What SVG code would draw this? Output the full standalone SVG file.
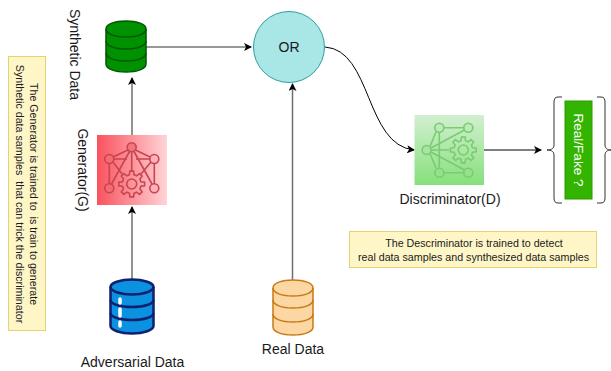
<svg xmlns="http://www.w3.org/2000/svg" width="611" height="371" viewBox="0 0 611 371">
<style>
text{font-family:"Liberation Sans",Arial,sans-serif;fill:#1a1a1a}
.lbl{font-size:14px;text-anchor:middle}
.note{font-size:10.700px;text-anchor:middle}
.nbox{fill:#fff6c8;stroke:#e6d272;stroke-width:1}
.ed{fill:none;stroke:#000;stroke-width:1}
.gr{fill:none;stroke:#6e6e6e;stroke-width:1.5}
.ic{fill:none;stroke-width:1.6}
</style>
<defs>
<linearGradient id="gG" x1="0" y1="0" x2="1" y2="0"><stop offset="0" stop-color="#f9525e"/><stop offset="1" stop-color="#ffd4d7"/></linearGradient>
<linearGradient id="gD" x1="0" y1="0" x2="0" y2="1"><stop offset="0" stop-color="#d2efd0"/><stop offset="1" stop-color="#86e07c"/></linearGradient>
<marker id="ah" markerWidth="8" markerHeight="8" refX="7" refY="4" orient="auto" markerUnits="userSpaceOnUse"><path d="M0,0L8,4L0,8L2,4Z" fill="#000"/></marker>
<g id="gear"><polygon points="9.22,-2.3 12.87,-1.81 12.87,1.81 9.22,2.3 8.14,4.89 10.38,7.82 7.82,10.38 4.89,8.14 2.3,9.22 1.81,12.87 -1.81,12.87 -2.3,9.22 -4.89,8.14 -7.82,10.38 -10.38,7.82 -8.14,4.89 -9.22,2.3 -12.87,1.81 -12.87,-1.81 -9.22,-2.3 -8.14,-4.89 -10.38,-7.82 -7.82,-10.38 -4.89,-8.14 -2.3,-9.22 -1.81,-12.87 1.81,-12.87 2.3,-9.22 4.89,-8.14 7.82,-10.38 10.38,-7.82 8.14,-4.89"/><circle r="5"/></g>
</defs>

<g id="connectors">
<path class="gr" d="M132,135V78" marker-end="url(#ah)"/>
<path class="gr" d="M132,280V207" marker-end="url(#ah)"/>
<path class="gr" d="M146,47H251" style="stroke:#333;stroke-width:1" marker-end="url(#ah)"/>
<path class="gr" d="M292.500,280V84" marker-end="url(#ah)"/>
<path class="ed" d="M325,47C372,50 365,145 414,150" marker-end="url(#ah)"/>
<path class="ed" d="M484,150H541" marker-end="url(#ah)"/>
</g>

<g id="note-generator">
<rect class="nbox" x="8.500" y="56.500" width="37" height="274"/>
<text class="note" transform="translate(29.500,194) rotate(90)" xml:space="preserve">The Generator is trained to  is train to generate</text>
<text class="note" transform="translate(16,194) rotate(90)" xml:space="preserve">Synthetic data samples  that can trick the discriminator</text>
</g>

<g id="synthetic-data">
<path d="M106,29V64C106,69 115,72 126,72C137,72 146,69 146,64V29C146,24 137,21 126,21C115,21 106,24 106,29Z" fill="#009100" stroke="#005700" stroke-width="1.500"/>
<path d="M106,29C106,34 115,37 126,37C137,37 146,34 146,29M106,41C106,46 115,49 126,49C137,49 146,46 146,41M106,53C106,58 115,61 126,61C137,61 146,58 146,53" fill="none" stroke="#005700" stroke-width="1.500"/>
<text class="lbl" transform="translate(70,54.500) rotate(90)">Synthetic Data</text>
</g>

<g id="generator">
<rect x="97" y="135" width="70" height="70" fill="url(#gG)"/>
<g class="ic" stroke="#c9444f">
<path d="M128,150L113,157M135.500,150L150,157M113.500,159H127M136,159H150M131.700,152V171M129.500,151.500L111.500,184M134,151.500L152,184M109.300,163.500V184M154.300,163.500V184M113,162L122,174M151,162L141,174"/>
<circle cx="131.700" cy="147.300" r="4.500" fill="#f2757e"/>
<circle cx="109.300" cy="159" r="4.500" fill="#f56b75"/>
<circle cx="154.300" cy="159" r="4.500" fill="#fdb3b8"/>
<circle cx="109.300" cy="188.300" r="4.500" fill="#f56b75"/>
<circle cx="154.300" cy="188.300" r="4.500" fill="#fdb3b8"/>
<use href="#gear" x="131.700" y="184"/>
</g>
<text class="lbl" transform="translate(77.500,170) rotate(90)">Generator(G)</text>
</g>

<g id="adversarial-data">
<path d="M110.500,287V326C110.500,330 120,333.500 132,333.500C144,333.500 153.500,330 153.500,326V287C153.500,283 144,279.500 132,279.500C120,279.500 110.500,283 110.500,287Z" fill="#0a91df" stroke="#101f6e" stroke-width="2.500"/>
<path d="M110.500,287C110.500,291 120,294.500 132,294.500C144,294.500 153.500,291 153.500,287M110.500,300C110.500,304 120,307 132,307C144,307 153.500,304 153.500,300M110.500,313C110.500,317 120,320 132,320C144,320 153.500,317 153.500,313" fill="none" stroke="#101f6e" stroke-width="2.500"/>
<path d="M120,299V303M120,309V316M120,322V326" stroke="#fff" stroke-width="3.500" stroke-linecap="round"/>
<text class="lbl" x="132.500" y="367">Adversarial Data</text>
</g>

<g id="real-data">
<path d="M273,288V327C273,332 282,335 293,335C304,335 313,332 313,327V288C313,283 304,280 293,280C282,280 273,283 273,288Z" fill="#fcd7a3" stroke="#c77a16" stroke-width="1.500"/>
<path d="M273,288C273,293 282,296 293,296C304,296 313,293 313,288M273,300C273,305 282,308 293,308C304,308 313,305 313,300M273,314C273,319 282,322 293,322C304,322 313,319 313,314" fill="none" stroke="#c77a16" stroke-width="1.500"/>
<text class="lbl" x="293" y="354">Real Data</text>
</g>

<g id="or">
<circle cx="289" cy="47" r="35.500" fill="#a9e6e6" stroke="#2c9ea4" stroke-width="1"/>
<text x="289" y="52" font-size="14" text-anchor="middle">OR</text>
</g>

<g id="discriminator">
<rect x="414.500" y="115" width="69.500" height="70" fill="url(#gD)"/>
<g class="ic" stroke="#7acb72">
<path d="M443.500,127.700H464M430,146.500L436,132M430,153.500L436,168M431,148L464.500,130M431,152L464.500,170M431,150H449M443.500,172.700H464M439.300,132V168"/>
<circle cx="426.700" cy="150" r="4.500" fill="#a8e5a2"/>
<circle cx="439.300" cy="127.700" r="4.500" fill="#bfeaba"/>
<circle cx="468.300" cy="127.700" r="4.500" fill="#bfeaba"/>
<circle cx="439.300" cy="172.700" r="4.500" fill="#96e18e"/>
<circle cx="468.300" cy="172.700" r="4.500" fill="#96e18e"/>
<use href="#gear" x="463.300" y="150"/>
</g>
<text class="lbl" x="450" y="204">Discriminator(D)</text>
</g>

<g id="real-fake">
<path d="M562,97H558C555,97 554,99 554,102V145C554,148 552,150 547,150C552,150 554,152 554,155V198C554,201 555,203 558,203H562" fill="none" stroke="#333" stroke-width="1"/>
<path d="M597,97H601C604,97 605,99 605,102V145C605,148 607,150 611,150C607,150 605,152 605,155V198C605,201 604,203 601,203H597" fill="none" stroke="#333" stroke-width="1"/>
<rect x="565" y="101" width="27" height="98" fill="#33b400" stroke="#2a9a00" stroke-width="1"/>
<text transform="translate(573.500,150) rotate(90)" font-size="13.500" text-anchor="middle" style="fill:#fff">Real/Fake ?</text>
</g>

<g id="note-discriminator">
<rect class="nbox" x="349.500" y="231.500" width="247" height="36"/>
<text class="note" x="474" y="247">The Descriminator is trained to detect</text>
<text class="note" x="473.500" y="260.500">real data samples and synthesized data samples</text>
</g>
</svg>
